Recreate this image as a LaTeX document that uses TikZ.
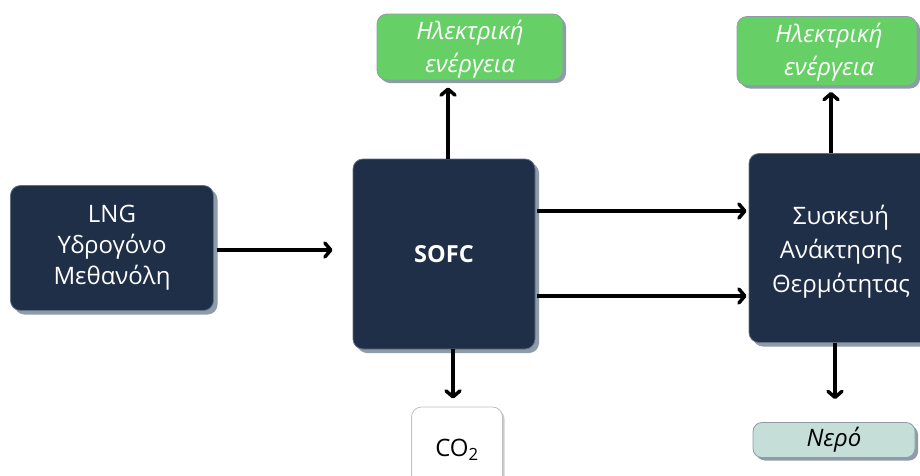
\documentclass[tikz,border=0pt]{standalone}
\usepackage{fontspec}
\setmainfont{Open Sans}
\usetikzlibrary{arrows.meta,shadows,calc}
\definecolor{navy}{HTML}{1F2F48}
\definecolor{shade}{HTML}{8E9BA8}
\definecolor{leaf}{HTML}{66D066}
\definecolor{teal}{HTML}{C5DED7}
\tikzset{
  dark/.style={draw=shade!60!navy, line width=0.8pt, fill=navy, rounded corners=10pt, text=white,
    align=center, font=\fontsize{24}{31}\selectfont,
    drop shadow={shadow xshift=4pt, shadow yshift=-4pt, fill=shade, opacity=1}},
  greenbox/.style={draw=shade, line width=0.8pt, fill=leaf, rounded corners=10pt, text=white,
    align=center, font=\fontsize{24}{33}\selectfont\itshape,
    drop shadow={shadow xshift=3pt, shadow yshift=-3pt, fill=shade, opacity=1}},
  arr/.style={line width=3.5pt, -{Straight Barb[round,length=6pt,width=14pt]}},
}
\begin{document}
\begin{tikzpicture}[x=1pt,y=-1pt]
\useasboundingbox (0,0) rectangle (920,475);
\clip (0,0) rectangle (920,475);
\node[dark, minimum width=203pt, minimum height=125pt] (lng) at (112,248) {LNG\\Υδρογόνο\\Μεθανόλη};
\node[dark, minimum width=182pt, minimum height=190pt, font=\fontsize{23.5}{28}\selectfont\bfseries] (sofc) at (444,254) {SOFC};
\node[dark, minimum width=182pt, minimum height=189pt] (heat) at (840,248) {};
\node[text=white, align=center, font=\fontsize{24}{34}\selectfont] (heatt) at (841,252) {Συσκευή\\Ανάκτησης\\Θερμότητας};
\node[greenbox, minimum width=186pt, minimum height=66pt] (el1) at (470,47) {};
\node[text=white, align=center, font=\fontsize{24}{33}\selectfont\itshape] (el1t) at (470,49) {Ηλεκτρική\\ενέργεια};
\node[greenbox, minimum width=180pt, minimum height=69pt] (el2) at (827,51) {};
\node[text=white, align=center, font=\fontsize{24}{33}\selectfont\itshape] (el2t) at (829,52) {Ηλεκτρική\\ενέργεια};
\node[draw=black!25, line width=0.8pt, fill=white, rounded corners=10pt, minimum width=91pt, minimum height=86pt,
  drop shadow={shadow xshift=2pt, shadow yshift=-2pt, fill=black!20, opacity=1}] (co2) at (457,450) {};
\node at (457,450) (co2t) {\fontsize{24}{28}\selectfont CO\textsubscript{2}};
\node[draw=shade, line width=0.8pt, fill=teal, rounded corners=9pt, minimum width=162pt, minimum height=35pt,
  font=\fontsize{24}{28}\selectfont\itshape,
  drop shadow={shadow xshift=3pt, shadow yshift=-3pt, fill=shade, opacity=1}] (water) at (834,440) {Νερό};
\coordinate (a1) at (lng.east|-0,250);
\draw[arr, shorten <=3pt, shorten >=20pt] (a1) -- (a1-|sofc.west);
\coordinate (u1) at (448,0);
\draw[arr, shorten >=7pt] (u1|-sofc.north) -- (u1|-el1.south);
\coordinate (d1) at (453,0);
\draw[arr, shorten >=8pt] (d1|-sofc.south) -- (d1|-co2.north);
\coordinate (h1) at (0,211);
\coordinate (h2) at (0,296);
\draw[arr, shorten <=2pt, shorten >=2pt] (h1-|sofc.east) -- (h1-|heat.west);
\draw[arr, shorten <=2pt, shorten >=2pt] (h2-|sofc.east) -- (h2-|heat.west);
\coordinate (u2) at (831,0);
\draw[arr, shorten >=6pt] (u2|-heat.north) -- (u2|-el2.south);
\coordinate (d2) at (835,0);
\draw[arr, shorten >=23pt] (d2|-heat.south) -- (d2|-water.north);
\end{tikzpicture}
\end{document}
